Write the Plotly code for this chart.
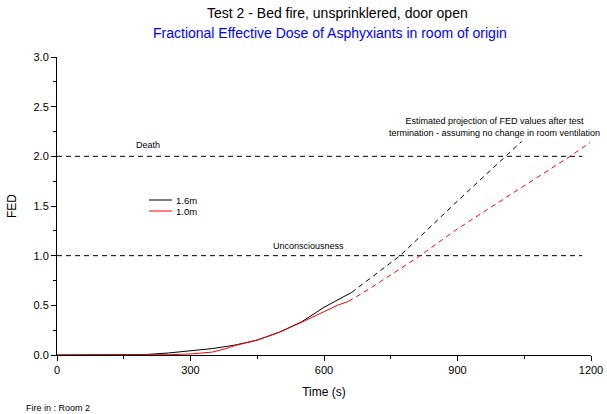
import plotly.graph_objects as go

# Measured data (1.6 m and 1.0 m heights)
t_16 = [0, 150, 200, 250, 300, 350, 400, 450, 500, 550, 600, 630, 662]
fed_16 = [0, 0, 0.005, 0.02, 0.04, 0.065, 0.1, 0.15, 0.23, 0.335, 0.48, 0.55, 0.63]
t_10 = [0, 200, 250, 300, 330, 350, 380, 400, 450, 500, 550, 600, 630, 655]
fed_10 = [0, 0, 0.003, 0.01, 0.02, 0.03, 0.065, 0.095, 0.15, 0.23, 0.33, 0.44, 0.5, 0.54]

# Projections after test termination
tp_16 = [662, 700, 771, 900, 1007, 1044]
fedp_16 = [0.63, 0.76, 1.0, 1.55, 2.0, 2.15]
tp_10 = [655, 700, 816, 900, 1000, 1153, 1198]
fedp_10 = [0.54, 0.66, 1.0, 1.27, 1.56, 2.0, 2.14]

# Reference levels
level_t = [0, 1180]
death = [2.0, 2.0]
uncon = [1.0, 1.0]

x_ticks = [0, 300, 600, 900, 1200]
y_ticks = [0.0, 0.5, 1.0, 1.5, 2.0, 2.5, 3.0]

series_names = ["1.6m", "1.0m"]
series_colors = ["black", "red"]

FONT = "Liberation Sans, Arial, sans-serif"
DASH = "5px,4px"

W, H = 607, 414
L, T = 57, 57
R = W - 591
B = H - 355
pw, ph = W - L - R, H - T - B


def px_x(x):
    return (x - L) / pw


def px_y(y):
    return (H - B - y) / ph


fig = go.Figure()
fig.add_trace(go.Scatter(x=level_t, y=death, mode="lines", line=dict(color="black", width=1, dash=DASH), showlegend=False))
fig.add_trace(go.Scatter(x=level_t, y=uncon, mode="lines", line=dict(color="black", width=1, dash=DASH), showlegend=False))
fig.add_trace(go.Scatter(x=tp_16, y=fedp_16, mode="lines", line=dict(color="black", width=1, dash=DASH), showlegend=False))
fig.add_trace(go.Scatter(x=tp_10, y=fedp_10, mode="lines", line=dict(color="red", width=1, dash=DASH), showlegend=False))
fig.add_trace(go.Scatter(x=t_16, y=fed_16, mode="lines", name=series_names[0], line=dict(color=series_colors[0], width=1), showlegend=False))
fig.add_trace(go.Scatter(x=t_10, y=fed_10, mode="lines", name=series_names[1], line=dict(color=series_colors[1], width=1), showlegend=False))

axis_common = dict(
    showline=True, linecolor="black", linewidth=1, mirror=False, automargin=False,
    ticks="outside", ticklen=5, tickcolor="black", showgrid=False, zeroline=False,
    tickfont=dict(family=FONT, size=11, color="black"),
)

fig.update_layout(
    width=W, height=H,
    margin=dict(l=L, r=R, t=T, b=B, autoexpand=False),
    paper_bgcolor="white", plot_bgcolor="white",
    font=dict(family=FONT, color="black"),
    xaxis=dict(range=[0, 1200], tickvals=x_ticks, ticktext=[str(v) for v in x_ticks],
               title=dict(text="Time (s)", font=dict(size=12), standoff=12),
               minor=dict(ticks="outside", ticklen=3, tickcolor="black", tickvals=[150, 450, 750, 1050]),
               **axis_common),
    yaxis=dict(range=[0, 3.0], tickvals=y_ticks, ticktext=[f"{v:.1f}" for v in y_ticks],
               title=dict(text="FED", font=dict(size=12), standoff=14),
               minor=dict(ticks="outside", ticklen=3, tickcolor="black",
                          tickvals=[0.25, 0.75, 1.25, 1.75, 2.25, 2.75]),
               **axis_common),
    showlegend=False,
)

# manual compact legend
leg_y = [200, 211]
for name, color, yy in zip(series_names, series_colors, leg_y):
    fig.add_shape(type="line", xref="paper", yref="paper",
                  x0=px_x(149), x1=px_x(172), y0=px_y(yy), y1=px_y(yy),
                  line=dict(color=color, width=1))
    fig.add_annotation(text=name, xref="paper", yref="paper", x=px_x(174), y=px_y(yy),
                       xanchor="left", yanchor="middle", showarrow=False,
                       font=dict(size=9.5, color="black", family=FONT))

ann = [
    dict(text="Test 2 - Bed fire, unsprinklered, door open", x=337, y=13, size=14, color="black"),
    dict(text="Fractional Effective Dose of Asphyxiants in room of origin", x=330, y=33, size=14, color="blue"),
    dict(text="Death", x=148, y=145, size=9, color="black"),
    dict(text="Unconsciousness", x=308, y=246, size=9, color="black"),
    dict(text="Estimated projection of FED values after test<br>termination - assuming no change in room ventilation",
         x=494, y=127, size=9, color="black"),
]
for a in ann:
    fig.add_annotation(text=a["text"], xref="paper", yref="paper",
                       x=px_x(a["x"]), y=px_y(a["y"]),
                       xanchor="center", yanchor="middle", showarrow=False,
                       font=dict(size=a["size"], color=a["color"], family=FONT))
fig.add_annotation(text="Fire in : Room 2", xref="paper", yref="paper",
                   x=px_x(24), y=px_y(408), xanchor="left", yanchor="middle",
                   showarrow=False, font=dict(size=9, color="black", family=FONT))

fig.write_html("out.html", config={"displayModeBar": False},
               post_script="document.body.style.margin='0';")
